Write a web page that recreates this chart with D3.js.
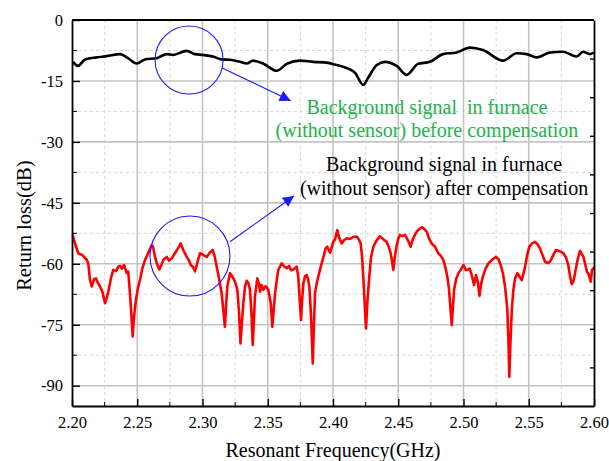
<!DOCTYPE html>
<html><head><meta charset="utf-8">
<script src="https://cdn.jsdelivr.net/npm/d3@7"></script>
<style>body{margin:0;background:#fff}svg{display:block}text{font-family:"Liberation Serif","Times New Roman",serif}</style>
</head><body><svg id="c" width="609" height="461"></svg>
<script>
// ---- data ----
const xTicks = [2.20,2.25,2.30,2.35,2.40,2.45,2.50,2.55,2.60];
const yTicks = [0,-15,-30,-45,-60,-75,-90];
const blackFreq = [2.2008,2.2046,2.2100,2.2189,2.2266,2.2368,2.2429,2.2496,2.2559,2.2649,2.2726,2.2774,2.2879,2.2943,2.3004,2.3080,2.3147,2.3211,2.3287,2.3339,2.3387,2.3464,2.3569,2.3645,2.3747,2.3847,2.3952,2.4028,2.4077,2.4169,2.4232,2.4268,2.4335,2.4398,2.4488,2.4565,2.4651,2.4743,2.4843,2.4948,2.5050,2.5149,2.5303,2.5408,2.5484,2.5561,2.5663,2.5762,2.5867,2.5916,2.5969,2.6000];
const blackVal = [-10.3,-11.3,-9.7,-9.2,-8.9,-8.4,-9.4,-10.7,-9.7,-9.4,-8.4,-8.6,-7.6,-8.4,-8.6,-9.0,-9.7,-9.8,-10.3,-10.7,-10.0,-10.7,-12.5,-10.8,-10.0,-10.3,-10.5,-11.1,-11.5,-13.0,-16.0,-14.3,-11.1,-10.3,-11.3,-13.5,-10.8,-10.3,-8.4,-8.0,-6.8,-7.4,-10.0,-8.2,-8.4,-9.2,-8.0,-7.8,-9.0,-7.8,-8.4,-8.0];
const redFreq = [2.2005,2.2023,2.2048,2.2077,2.2113,2.2125,2.2138,2.2151,2.2169,2.2184,2.2199,2.2215,2.2234,2.2253,2.2265,2.2278,2.2299,2.2316,2.2337,2.2355,2.2368,2.2383,2.2399,2.2419,2.2431,2.2444,2.2454,2.2465,2.2475,2.2490,2.2505,2.2521,2.2536,2.2559,2.2582,2.2611,2.2621,2.2636,2.2651,2.2669,2.2686,2.2701,2.2726,2.2743,2.2764,2.2789,2.2812,2.2833,2.2851,2.2879,2.2896,2.2910,2.2927,2.2943,2.2962,2.2981,2.3004,2.3032,2.3057,2.3078,2.3092,2.3109,2.3126,2.3147,2.3161,2.3172,2.3181,2.3190,2.3211,2.3230,2.3249,2.3267,2.3280,2.3291,2.3303,2.3313,2.3326,2.3339,2.3352,2.3364,2.3375,2.3385,2.3395,2.3402,2.3420,2.3433,2.3441,2.3452,2.3466,2.3483,2.3504,2.3523,2.3535,2.3544,2.3556,2.3569,2.3581,2.3607,2.3625,2.3645,2.3663,2.3678,2.3696,2.3722,2.3733,2.3742,2.3749,2.3755,2.3763,2.3773,2.3786,2.3799,2.3809,2.3819,2.3832,2.3845,2.3853,2.3862,2.3874,2.3887,2.3900,2.3913,2.3931,2.3943,2.3956,2.3977,2.4002,2.4015,2.4033,2.4046,2.4067,2.4084,2.4105,2.4130,2.4153,2.4182,2.4198,2.4212,2.4222,2.4232,2.4243,2.4253,2.4264,2.4278,2.4291,2.4309,2.4333,2.4360,2.4387,2.4411,2.4427,2.4442,2.4453,2.4462,2.4475,2.4488,2.4500,2.4513,2.4532,2.4552,2.4571,2.4595,2.4613,2.4641,2.4663,2.4684,2.4701,2.4718,2.4736,2.4756,2.4782,2.4807,2.4828,2.4846,2.4862,2.4876,2.4888,2.4897,2.4910,2.4920,2.4928,2.4943,2.4961,2.4978,2.5000,2.5017,2.5030,2.5047,2.5063,2.5081,2.5096,2.5110,2.5122,2.5135,2.5148,2.5169,2.5191,2.5219,2.5249,2.5269,2.5285,2.5303,2.5318,2.5328,2.5336,2.5345,2.5351,2.5359,2.5370,2.5382,2.5395,2.5413,2.5430,2.5446,2.5459,2.5472,2.5487,2.5504,2.5525,2.5548,2.5567,2.5586,2.5605,2.5625,2.5644,2.5663,2.5686,2.5709,2.5736,2.5765,2.5786,2.5803,2.5816,2.5829,2.5842,2.5855,2.5874,2.5893,2.5919,2.5932,2.5945,2.5958,2.5975,2.5985,2.5995,2.6000];
const redVal = [-52.9,-55.0,-57.4,-57.8,-59.0,-60.0,-64.0,-65.6,-63.8,-63.6,-64.8,-65.6,-67.0,-69.7,-68.5,-66.9,-63.5,-61.5,-61.8,-60.7,-60.5,-61.2,-60.3,-62.3,-61.9,-67.3,-72.0,-77.9,-73.0,-68.9,-66.0,-64.0,-61.5,-59.1,-57.5,-55.4,-55.8,-58.3,-60.0,-61.4,-60.2,-59.0,-58.3,-59.2,-58.7,-57.4,-56.2,-55.0,-56.5,-58.3,-59.2,-60.3,-60.8,-61.9,-59.5,-57.4,-57.8,-58.3,-57.2,-56.6,-58.0,-60.7,-63.5,-67.3,-72.0,-75.5,-70.0,-65.6,-62.3,-63.2,-64.4,-66.4,-72.0,-79.6,-74.0,-69.7,-65.5,-64.2,-64.8,-66.4,-72.0,-80.0,-73.0,-68.1,-63.6,-65.0,-66.9,-65.2,-66.4,-65.5,-66.4,-69.7,-75.5,-72.0,-67.3,-64.0,-61.5,-59.9,-60.6,-61.1,-60.5,-61.6,-61.4,-60.7,-63.0,-67.3,-71.0,-73.8,-69.0,-64.8,-63.0,-62.8,-63.8,-65.6,-73.0,-84.5,-76.0,-67.3,-65.0,-63.2,-61.5,-59.9,-57.8,-56.2,-55.8,-57.3,-54.6,-54.0,-51.7,-53.5,-55.0,-54.2,-53.7,-53.9,-53.4,-53.3,-54.0,-55.0,-58.0,-63.2,-70.0,-75.9,-69.0,-63.2,-58.5,-55.8,-54.3,-53.2,-54.0,-54.6,-55.8,-57.4,-59.5,-61.5,-58.0,-55.5,-53.8,-52.9,-53.2,-52.9,-54.0,-55.8,-53.8,-52.1,-51.4,-51.0,-51.5,-52.1,-53.8,-55.0,-55.8,-57.4,-58.1,-59.1,-61.0,-63.2,-66.0,-69.7,-75.1,-70.0,-66.4,-63.8,-62.3,-61.5,-60.3,-61.5,-61.5,-61.2,-62.8,-65.2,-62.8,-64.5,-67.9,-65.0,-63.2,-61.2,-59.9,-59.0,-58.3,-59.0,-60.3,-62.5,-65.6,-68.5,-71.4,-80.0,-87.8,-80.0,-71.4,-66.5,-63.6,-62.3,-63.2,-64.0,-62.5,-60.7,-58.0,-55.8,-55.0,-54.6,-55.2,-56.2,-57.8,-59.5,-59.8,-59.5,-58.0,-56.6,-56.9,-57.4,-58.5,-60.3,-63.0,-65.0,-64.3,-62.3,-59.0,-56.8,-58.3,-60.0,-61.9,-62.5,-64.4,-61.5,-61.1,-60.8];
const noteGreen = ["Background signal\u00a0 in furnace","(without sensor) before compensation"];
const noteBlack = ["Background signal in furnace","(without sensor) after compensation"];

// ---- layout ----
const svg = d3.select("#c");
const L=72, R=594, T=20, B=406;
const x = d3.scaleLinear().domain([2.2,2.6]).range([L,R]);
const y = d3.scaleLinear().domain([-95,0]).range([B,T]);

// grid
const minorX = d3.range(2.225,2.6,0.05);
const minorY = d3.range(-7.5,-95,-15);
const g = svg.append("g");
g.selectAll(".mx").data(minorX).join("line").attr("x1",d=>x(d)).attr("x2",d=>x(d)).attr("y1",T).attr("y2",B)
 .attr("stroke","#d6d6d6").attr("stroke-width",1).attr("stroke-dasharray","3,3");
g.selectAll(".my").data(minorY).join("line").attr("y1",d=>y(d)).attr("y2",d=>y(d)).attr("x1",L).attr("x2",R)
 .attr("stroke","#d6d6d6").attr("stroke-width",1).attr("stroke-dasharray","3,3");
g.selectAll(".Mx").data(xTicks.slice(1,-1)).join("line").attr("x1",d=>x(d)).attr("x2",d=>x(d)).attr("y1",T).attr("y2",B)
 .attr("stroke","#c4c4c4").attr("stroke-width",1.6);
g.selectAll(".My").data(yTicks.slice(1)).join("line").attr("y1",d=>y(d)).attr("y2",d=>y(d)).attr("x1",L).attr("x2",R)
 .attr("stroke","#c4c4c4").attr("stroke-width",1.6);

// lines
const line = d3.line().x(d=>x(d[0])).y(d=>y(d[1]));
svg.append("path").datum(blackFreq.map((f,i)=>[f,blackVal[i]])).attr("d",line.curve(d3.curveMonotoneX))
 .attr("fill","none").attr("stroke","#000").attr("stroke-width",2.6).attr("stroke-linejoin","round");
svg.append("path").datum(redFreq.map((f,i)=>[f,redVal[i]])).attr("d",d3.line().x(d=>x(d[0])).y(d=>y(d[1])))
 .attr("fill","none").attr("stroke","#ff0000").attr("stroke-width",2.6).attr("stroke-linejoin","round");

// axes
const fmtX = d3.format(".2f");
const ax = svg.append("g").attr("transform",`translate(0,${B})`)
 .call(d3.axisBottom(x).tickValues(xTicks).tickFormat(fmtX).tickSizeInner(-7).tickSizeOuter(0).tickPadding(10));
ax.append("g").selectAll("line").data(minorX).join("line").attr("x1",d=>x(d)).attr("x2",d=>x(d)).attr("y1",0).attr("y2",-4).attr("stroke","#000");
const ay = svg.append("g").attr("transform",`translate(${L},0)`)
 .call(d3.axisLeft(y).tickValues(yTicks).tickFormat(d=>d===0?"0":String(d)).tickSizeInner(-8).tickSizeOuter(0).tickPadding(9));
ay.append("g").selectAll("line").data(minorY).join("line").attr("y1",d=>y(d)).attr("y2",d=>y(d)).attr("x1",0).attr("x2",5).attr("stroke","#000");
const ar = svg.append("g").attr("transform",`translate(${R},0)`)
 .call(d3.axisRight(y).tickValues(d3.range(1,10).map(k=>-9.5*k)).tickFormat("").tickSizeInner(-4).tickSizeOuter(0));
svg.append("line").attr("x1",L).attr("x2",R).attr("y1",T).attr("y2",T).attr("stroke","#000").attr("stroke-width",1.8);
[ax,ay,ar].forEach(a=>{a.select(".domain").attr("stroke","#000").attr("stroke-width",1.8);
  a.selectAll(".tick line").attr("stroke","#000").attr("stroke-width",1.4);
  a.selectAll("text").attr("font-size",16.5).attr("fill","#000").style("font-family","'Liberation Serif',serif");});

// axis titles
svg.append("text").attr("x",(L+R)/2).attr("y",457).attr("text-anchor","middle").attr("font-size",20).text("Resonant Frequency(GHz)");
svg.append("text").attr("transform",`translate(31,${y(-50.6)}) rotate(-90)`).attr("text-anchor","middle").attr("font-size",20.5).text("Return loss(dB)");

// annotations
const blue="#1a1aff";
svg.append("defs").append("marker").attr("id","ah").attr("viewBox","0 0 10 10").attr("refX",10).attr("refY",5)
 .attr("markerWidth",16).attr("markerHeight",11).attr("markerUnits","userSpaceOnUse").attr("orient","auto")
 .append("path").attr("d","M0,0L10,5L0,10Z").attr("fill",blue);
svg.append("circle").attr("cx",x(2.2897)).attr("cy",y(-9.85)).attr("r",34).attr("fill","none").attr("stroke",blue).attr("stroke-width",1.1);
svg.append("circle").attr("cx",x(2.2904)).attr("cy",y(-58.1)).attr("r",40).attr("fill","none").attr("stroke",blue).attr("stroke-width",1.1);
svg.append("line").attr("x1",x(2.3147)).attr("y1",y(-11.74)).attr("x2",x(2.3676)).attr("y2",y(-19.86)).attr("stroke",blue).attr("stroke-width",1.1).attr("marker-end","url(#ah)");
svg.append("line").attr("x1",x(2.3211)).attr("y1",y(-54.57)).attr("x2",x(2.3701)).attr("y2",y(-43.3)).attr("stroke",blue).attr("stroke-width",1.1).attr("marker-end","url(#ah)");
svg.append("g").selectAll("text").data(noteGreen).join("text").attr("x",x(2.472)).attr("y",(d,i)=>y(i?-28.7:-23.1))
 .attr("text-anchor","middle").attr("font-size",20).attr("fill","#22b24c").text(d=>d);
svg.append("g").selectAll("text").data(noteBlack).join("text").attr("x",x(2.4851)).attr("y",(d,i)=>y(i?-43.1:-37.1))
 .attr("text-anchor","middle").attr("font-size",20).attr("fill","#000").text(d=>d);
</script></body></html>
